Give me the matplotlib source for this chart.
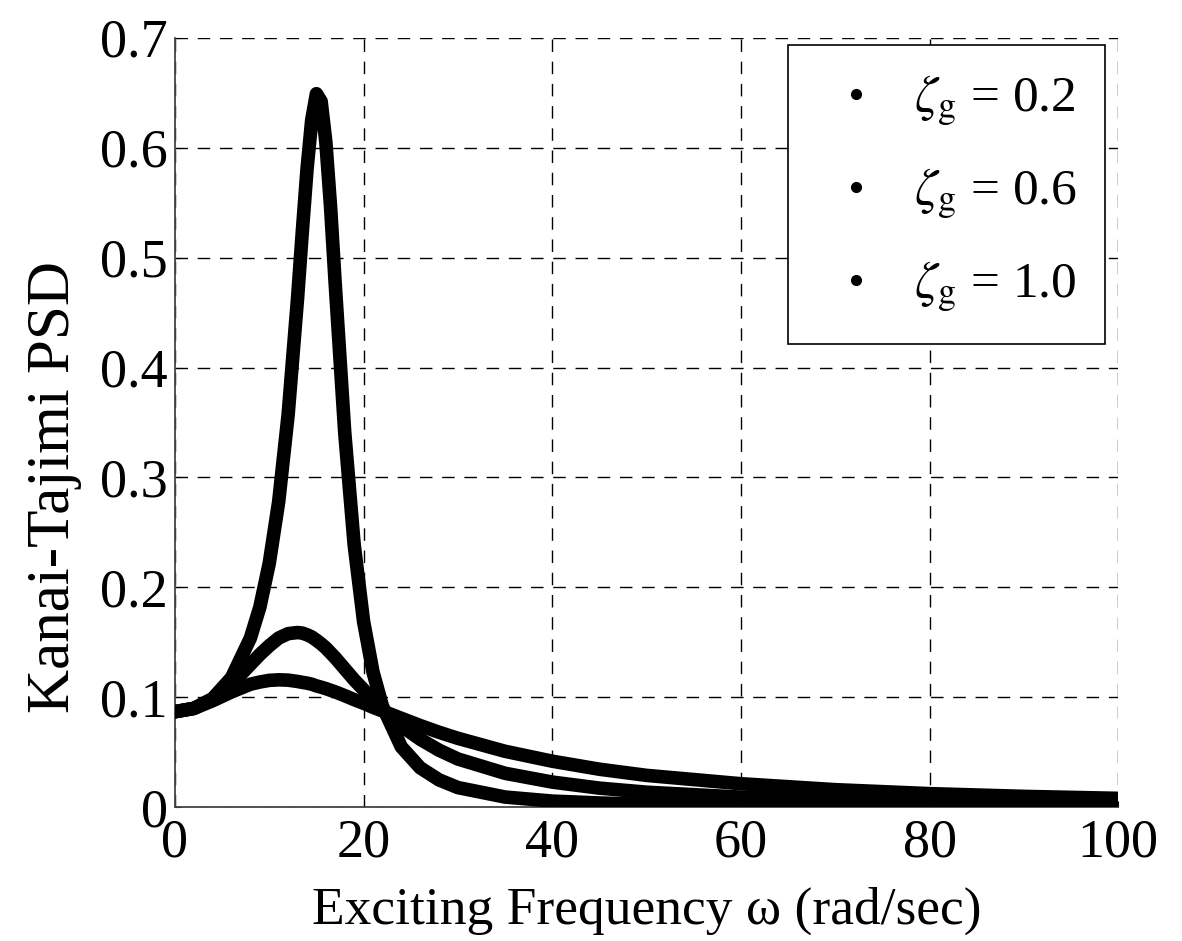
import matplotlib
matplotlib.use("Agg")
import matplotlib.pyplot as plt
from matplotlib.lines import Line2D

# Exciting frequency (rad/sec) at which values were read
omega = [0, 2, 4, 6, 8, 9, 10, 11, 12, 13, 13.5, 14, 14.5, 15, 15.5, 16, 16.5,
         17, 18, 19, 20, 21, 22, 24, 26, 28, 30, 35, 40, 45, 50, 60, 70, 80,
         90, 100]

# Kanai-Tajimi PSD
psd_02 = [0.087, 0.090, 0.099, 0.118, 0.154, 0.182, 0.222, 0.278, 0.357, 0.463,
          0.523, 0.580, 0.625, 0.649, 0.642, 0.605, 0.546, 0.475, 0.341, 0.239,
          0.169, 0.123, 0.092, 0.055, 0.036, 0.025, 0.018, 0.0094, 0.0057,
          0.0040, 0.0027, 0.0016, 0.0010, 0.0007, 0.0005, 0.0004]
psd_06 = [0.087, 0.090, 0.098, 0.112, 0.130, 0.139, 0.147, 0.154, 0.158, 0.159,
          0.1585, 0.157, 0.155, 0.152, 0.1487, 0.145, 0.1405, 0.136, 0.126,
          0.116, 0.107, 0.097, 0.089, 0.074, 0.062, 0.052, 0.044, 0.031, 0.023,
          0.0175, 0.0138, 0.0093, 0.0067, 0.0051, 0.0040, 0.0032]
psd_10 = [0.087, 0.090, 0.097, 0.105, 0.112, 0.114, 0.1155, 0.116, 0.1157, 0.1145,
          0.1137, 0.113, 0.112, 0.1105, 0.1093, 0.108, 0.1065, 0.105, 0.1016,
          0.098, 0.0947, 0.091, 0.0877, 0.081, 0.0744, 0.0683, 0.0628, 0.051,
          0.042, 0.0347, 0.0291, 0.0215, 0.0161, 0.0125, 0.0100, 0.0082]

series = [psd_02, psd_06, psd_10]
labels = [r'$\zeta_{\mathrm{g}}$ = 0.2', r'$\zeta_{\mathrm{g}}$ = 0.6', r'$\zeta_{\mathrm{g}}$ = 1.0']

xticks = [0, 20, 40, 60, 80, 100]
yticks = [0, 0.1, 0.2, 0.3, 0.4, 0.5, 0.6, 0.7]
ytick_labels = ['0', '0.1', '0.2', '0.3', '0.4', '0.5', '0.6', '0.7']

plt.rcParams['font.family'] = ['Liberation Serif', 'DejaVu Serif']
plt.rcParams['mathtext.fontset'] = 'stix'

fig = plt.figure(figsize=(11.82, 9.41), dpi=100)
ax = fig.add_axes([0.148, 0.142, 0.798, 0.818])

for ys in series:
    ax.plot(omega, ys, color='black', lw=9.8, solid_capstyle='round',
            solid_joinstyle='round', zorder=3)

ax.set_xlim(0, 100)
ax.set_ylim(0, 0.7)
ax.set_xticks(xticks)
ax.set_xticklabels([str(t) for t in xticks])
ax.set_yticks(yticks)
ax.set_yticklabels(ytick_labels)
ax.tick_params(direction='in', length=4, labelsize=39, pad=5, colors='black')
ax.tick_params(axis='x', pad=8)
ax.grid(True, color='black', linestyle=(0, (9, 7)), linewidth=1.0)
ax.spines['top'].set_visible(False)
ax.spines['right'].set_visible(False)
for s in ('left', 'bottom'):
    ax.spines[s].set_linewidth(1.3)
    ax.spines[s].set_color('#444444')

ax.set_xlabel('Exciting Frequency ω (rad/sec)', fontsize=38.5, labelpad=13)
ax.set_ylabel('Kanai-Tajimi PSD', fontsize=44)
ax.yaxis.set_label_coords(-0.099, 0.416)

handles = [Line2D([], [], color='black', marker='o', markersize=7, linestyle='none')
           for _ in labels]
leg = ax.legend(handles, labels, loc='upper right', fontsize=37, frameon=True,
                fancybox=False, edgecolor='black', framealpha=1,
                handlelength=1.52, handletextpad=0.37, labelspacing=0.74,
                borderpad=0.55, borderaxespad=0,
                bbox_to_anchor=(0.986, 0.99))
leg.get_frame().set_linewidth(1.2)
leg.set_zorder(5)

fig.savefig('out.png', dpi=100)
